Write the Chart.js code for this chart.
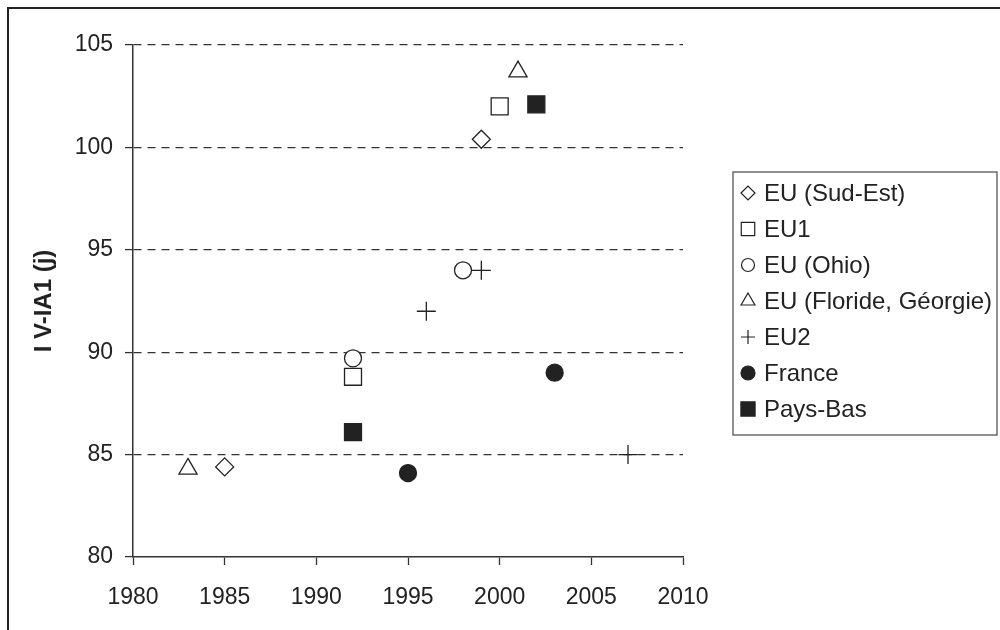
<!DOCTYPE html>
<html>
<head>
<meta charset="utf-8">
<script src="https://cdn.jsdelivr.net/npm/chart.js@4.4.1/dist/chart.umd.min.js"></script>
<style>
  body { margin: 0; background: #fff; }
  #wrap { width: 1000px; height: 630px; position: relative; }
</style>
</head>
<body>
<div id="wrap"><canvas id="ivChart"></canvas></div>
<script>
// values: [year, days]
var sudEst   = [[1985, 84.4], [1999, 100.4]];
var eu1      = [[1992, 88.8], [2000, 102.0]];
var ohio     = [[1992, 89.7], [1998, 94.0]];
var floride  = [[1983, 84.3], [2001, 103.7]];
var eu2      = [[1996, 92.0], [1999, 94.0], [2007, 85.0]];
var france   = [[1995, 84.1], [2003, 89.0]];
var paysBas  = [[1992, 86.1], [2002, 102.1]];

var seriesLabels = ['EU (Sud-Est)', 'EU1', 'EU (Ohio)', 'EU (Floride, Géorgie)', 'EU2', 'France', 'Pays-Bas'];
var xTicks = [1980, 1985, 1990, 1995, 2000, 2005, 2010];
var yTicks = [80, 85, 90, 95, 100, 105];

var ink = '#222';
var fontFamily = "'Liberation Sans', Arial, sans-serif";

function toPoints(arr) {
    return arr.map(function(p) { return { x: p[0], y: p[1] }; });
}

function makeSet(label, arr, style, radius, filled, legendRadius) {
    return {
        label: label,
        data: toPoints(arr),
        pointStyle: style,
        pointRadius: radius,
        pointHoverRadius: radius,
        pointBackgroundColor: filled ? ink : '#fff',
        pointBorderColor: ink,
        pointBorderWidth: 1.3,
        showLine: false,
        legendRadius: legendRadius
    };
}

// outer frame of the figure
var framePlugin = {
    id: 'frame',
    beforeDraw: function(chart) {
        var ctx = chart.ctx;
        ctx.save();
        ctx.fillStyle = '#fff';
        ctx.fillRect(0, 0, chart.width, chart.height);
        ctx.fillStyle = ink;
        ctx.fillRect(7, 7, chart.width - 7, 2);
        ctx.fillRect(7, 7, 2, chart.height - 7);
        ctx.restore();
    }
};

// boxed legend at the right, like the original
var boxLegend = {
    id: 'boxLegend',
    afterDraw: function(chart) {
        var ctx = chart.ctx;
        var left = 733, top = 172, width = 264, height = 263;
        ctx.save();
        ctx.strokeStyle = '#555';
        ctx.lineWidth = 1.3;
        ctx.strokeRect(left, top, width, height);
        ctx.font = '24px ' + fontFamily;
        ctx.textBaseline = 'middle';
        chart.data.datasets.forEach(function(ds, i) {
            var cy = 193 + i * 36;
            ctx.fillStyle = ds.pointBackgroundColor;
            ctx.strokeStyle = ink;
            ctx.lineWidth = 1.2;
            Chart.helpers.drawPoint(ctx, {
                radius: ds.legendRadius,
                pointStyle: ds.pointStyle,
                rotation: 0,
                borderWidth: 1.2
            }, 748, cy);
            ctx.fillStyle = ink;
            ctx.fillText(ds.label, 764, cy + 1);
        });
        ctx.restore();
    }
};

var ctxIV = document.getElementById('ivChart').getContext('2d');
var chartIV = new Chart(ctxIV, {
    type: 'scatter',
    data: {
        datasets: [
            makeSet(seriesLabels[0], sudEst, 'rectRot', 9, false, 7),
            makeSet(seriesLabels[1], eu1, 'rect', 12, false, 9.5),
            makeSet(seriesLabels[2], ohio, 'circle', 8.5, false, 6.5),
            makeSet(seriesLabels[3], floride, 'triangle', 10.5, false, 8),
            makeSet(seriesLabels[4], eu2, 'cross', 9.5, false, 7),
            makeSet(seriesLabels[5], france, 'circle', 8.5, true, 7),
            makeSet(seriesLabels[6], paysBas, 'rect', 12, true, 10)
        ]
    },
    options: {
        responsive: true,
        maintainAspectRatio: false,
        animation: false,
        layout: { padding: { left: 0, right: 317, top: 45, bottom: 0 } },
        plugins: {
            legend: { display: false },
            tooltip: { enabled: false }
        },
        scales: {
            x: {
                type: 'linear',
                min: 1980,
                max: 2010,
                afterBuildTicks: function(scale) {
                    scale.ticks = xTicks.map(function(v) { return { value: v }; });
                },
                afterFit: function(scale) { scale.height = 73; },
                ticks: {
                    color: ink,
                    padding: 19,
                    font: { family: fontFamily, size: 23 },
                    callback: function(v) { return String(v); }
                },
                grid: {
                    drawOnChartArea: false,
                    tickLength: 8,
                    tickColor: '#333',
                    tickWidth: 1.3
                },
                border: { color: '#333', width: 1.5 }
            },
            y: {
                type: 'linear',
                min: 80,
                max: 105,
                afterBuildTicks: function(scale) {
                    scale.ticks = yTicks.map(function(v) { return { value: v }; });
                },
                afterFit: function(scale) { scale.width = 133; },
                title: {
                    display: true,
                    text: 'I V-IA1 (j)',
                    color: ink,
                    font: { family: fontFamily, size: 24, weight: 'bold' },
                    padding: { top: 30, bottom: 0 }
                },
                ticks: {
                    color: ink,
                    padding: 12,
                    font: { family: fontFamily, size: 23 },
                    callback: function(v) { return String(v); }
                },
                grid: {
                    color: function(c) { return c.tick && c.tick.value === 80 ? 'rgba(0,0,0,0)' : '#333'; },
                    lineWidth: 1.2,
                    tickBorderDash: [],
                    tickLength: 8,
                    tickColor: '#333',
                    tickWidth: 1.3
                },
                border: { color: '#333', width: 1.5, dash: [8, 6] }
            }
        }
    },
    plugins: [framePlugin, boxLegend]
});
</script>
</body>
</html>
